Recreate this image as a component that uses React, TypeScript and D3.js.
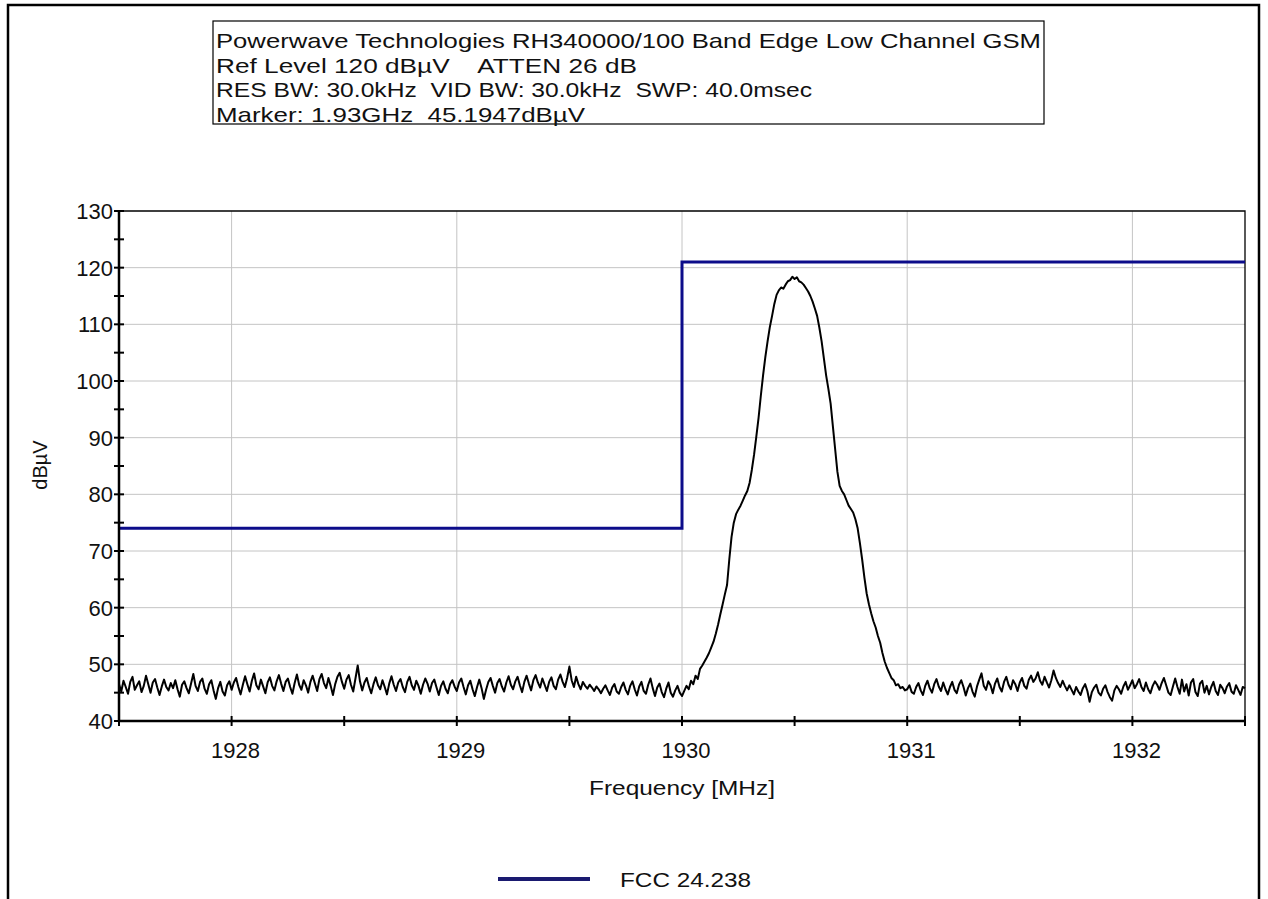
import * as d3 from "d3";

// sweep settings and trace values (dBµV)
const sweepStep = 0.01;

const noiseLowStart = 1927.5;
const noiseLow = [
  46.5, 45.2, 47.1, 46.0, 44.8, 46.9, 47.8, 45.5, 46.3, 47.0, 45.1, 46.2, 48.0, 46.5, 45.0, 46.8, 47.4, 45.9, 44.6, 46.1, 47.3, 46.0, 45.4, 46.7, 45.8,
  47.2, 45.6, 44.3, 46.4, 47.0, 45.8, 44.9, 46.6, 48.3, 46.2, 45.3, 46.9, 47.5, 45.7, 44.8, 46.5, 47.2, 45.4, 43.9, 45.8, 46.9, 45.2, 44.5, 46.3, 47.0,
  45.5, 46.8, 47.6, 46.0, 44.7, 46.4, 47.9, 46.5, 45.2, 47.1, 48.4, 46.3, 45.6, 47.3, 46.1, 44.9, 46.8, 47.7, 46.2, 45.4, 47.0, 48.1, 46.6, 45.3, 46.9,
  47.5, 46.0, 44.8, 46.7, 48.2, 46.4, 45.5, 47.2, 46.3, 45.0, 46.9, 48.0, 46.6, 45.3, 47.4, 48.3, 46.7, 45.8, 47.6, 46.2, 44.6, 46.5, 47.8, 48.5, 46.9,
  45.7, 47.3, 48.1, 46.4, 45.2, 47.5, 49.8, 47.0, 45.4, 46.8, 47.6, 46.1, 44.9, 46.5, 47.7, 46.3, 45.6, 47.2, 46.0, 44.7, 46.6, 47.9, 46.4, 45.3, 46.8,
  47.4, 46.0, 45.1, 46.9, 47.8, 46.3, 45.5, 47.1, 46.2, 44.8, 46.4, 47.5, 46.6, 45.2, 46.7, 47.3, 45.9, 44.6, 46.2, 47.0, 45.7, 44.9, 46.5, 47.2, 46.1,
  45.3, 46.8, 47.5, 46.0, 44.7, 46.3, 47.1, 45.6, 44.4, 46.0, 47.3, 45.8, 43.9, 45.5, 46.9, 47.6, 46.2, 45.0, 46.7, 47.4, 46.1, 45.2, 46.8, 47.9, 46.4,
  45.6, 47.0, 47.8, 46.3, 45.1, 46.9, 48.0, 46.6, 45.4, 47.2, 48.1, 46.8, 45.9, 47.5, 46.4, 45.3, 46.9, 47.7, 46.2, 45.6, 47.3, 48.2, 46.9, 46.0, 47.6,
  49.6, 47.2, 46.0, 47.8, 46.5, 45.6, 46.9, 46.2, 45.7, 46.4, 45.9, 45.3, 46.1, 45.6, 44.9, 45.7, 46.3, 45.4, 44.6, 45.9, 46.5, 45.2, 44.8, 46.0, 46.8,
  45.5, 44.7, 46.2, 47.0, 45.6, 44.5, 46.1, 46.9, 45.3, 44.8, 46.4, 47.5, 45.8, 44.4, 45.9, 46.6, 45.1, 44.2, 45.7, 46.8, 45.0, 44.3, 45.4, 46.2, 45.0,
];

const carrierStart = 1930.0;
const carrier = [
  44.4, 45.3, 46.2, 45.6, 47.1, 46.5, 48.0, 47.4, 49.2, 49.8,
  50.5, 51.2, 52.0, 53.0, 54.0, 55.4, 57.0, 58.8, 60.5, 62.3,
  64.0, 68.5, 72.5, 75.0, 76.5, 77.3, 78.0, 78.9, 79.8, 80.6,
  82.0, 84.3, 87.0, 90.2, 93.5, 97.4, 101.0, 104.2, 107.0, 109.5,
  111.5, 113.6, 115.2, 116.0, 116.5, 116.3, 117.0, 117.6, 117.8, 118.4,
  118.0, 118.3, 117.6, 117.4, 117.0, 116.4, 115.8, 115.0, 114.0, 112.8,
  111.5, 109.4, 107.0, 104.0, 101.0, 98.6, 96.0, 92.0, 88.0, 84.0,
  81.5, 80.6, 80.0, 79.0, 78.0, 77.4, 76.8, 75.6, 74.0, 71.4,
  68.5, 65.3, 62.5, 60.6, 59.0, 57.6, 56.5, 55.0, 53.8, 52.0,
  50.5, 49.4, 48.5, 47.6, 47.2, 46.3, 46.5, 45.8, 46.0, 45.4,
];

const noiseHighStart = 1931.0;
const noiseHigh = [
  45.6, 46.3, 45.1, 44.8, 46.0, 46.7, 45.4, 44.6, 46.2, 47.1, 45.8, 45.0, 46.5, 47.4, 46.1, 45.3, 46.8, 45.6, 44.7, 46.0, 46.9, 45.5, 44.9, 46.4, 47.2,
  46.0, 44.5, 45.8, 46.6, 45.2, 44.3, 46.1, 47.3, 48.4, 46.2, 45.5, 47.0, 46.3, 44.9, 46.6, 47.5, 46.0, 45.2, 46.9, 47.8, 46.4, 45.6, 47.2, 46.5, 45.3,
  46.8, 47.6, 46.2, 45.7, 47.3, 48.0, 46.9, 47.5, 48.6, 47.1, 46.4, 47.8, 46.8, 45.9, 47.2, 48.9, 47.6, 46.7, 46.0, 47.1, 46.2, 45.4, 46.3, 45.5, 44.7,
  46.0, 45.2, 44.6, 45.8, 46.5, 45.3, 43.4, 45.1, 45.9, 46.4, 45.0, 44.5, 45.7, 46.3, 45.1, 44.2, 43.6, 45.4, 46.2, 45.6, 44.8, 46.1, 46.9, 45.5, 46.3,
  47.2, 45.8, 46.5, 47.4, 46.0, 45.3, 46.8, 45.6, 44.9, 46.2, 47.0, 46.4, 45.5, 46.7, 47.6, 46.3, 45.0, 44.6, 46.1, 47.5, 46.0, 44.8, 47.3, 45.2, 46.5,
  44.5, 46.8, 47.4, 45.1, 44.4, 46.6, 47.1, 45.0, 46.2, 44.7, 46.0, 46.9, 45.3, 44.6, 46.4, 45.8, 44.9, 46.1, 46.7, 45.2, 44.8, 46.3, 45.5, 44.6, 46.0,
  45.8,
];

// FCC 24.238 limit line
const limitFreq = [1927.5, 1930.0, 1930.0, 1932.5];
const limitLevel = [74, 74, 121, 121];

const xTicks = [1928, 1929, 1930, 1931, 1932];
const xMinorTicks = [1927.5, 1928.5, 1929.5, 1930.5, 1931.5, 1932.5];
const yTicks = [40, 50, 60, 70, 80, 90, 100, 110, 120, 130];
const yMinorTicks = [45, 55, 65, 75, 85, 95, 105, 115, 125];

const headerLines = [
  "Powerwave Technologies RH340000/100 Band Edge Low Channel GSM",
  "Ref Level 120 dBµV    ATTEN 26 dB",
  "RES BW: 30.0kHz  VID BW: 30.0kHz  SWP: 40.0msec",
  "Marker: 1.93GHz  45.1947dBµV",
];
const headerWidths = [825, 421, 596, 369];

const legendLabel = "FCC 24.238";

const font = "'Liberation Sans', Arial, sans-serif";

export default function App() {
  const W = 1268;
  const H = 899;
  const left = 119, right = 1245, top = 211, bottom = 721;

  const x = d3.scaleLinear().domain([1927.5, 1932.5]).range([left, right]);
  const y = d3.scaleLinear().domain([40, 130]).range([bottom, top]);

  const toPoints = (start: number, vals: number[]) =>
    vals.map((v, i) => [start + i * sweepStep, v] as [number, number]);
  const trace = [
    ...toPoints(noiseLowStart, noiseLow),
    ...toPoints(carrierStart, carrier),
    ...toPoints(noiseHighStart, noiseHigh),
  ];

  const line = d3.line<[number, number]>()
    .x(d => x(d[0]))
    .y(d => y(d[1]));

  const limit = limitFreq.map((f, i) => [f, limitLevel[i]] as [number, number]);

  const navy = "#0c0c8a";
  const tickLen = 5;

  return (
    <svg width={W} height={H} style={{ position: "absolute", left: 0, top: 0, background: "#fff" }} fontFamily={font}>
      <rect x={0} y={0} width={W} height={H} fill="#fff" />
      {/* outer frame */}
      <path d={`M8,${H + 5} V5 H1259 V${H + 5}`} fill="none" stroke="#000" strokeWidth={2.5} />

      {/* header box */}
      <rect x={213} y={21} width={831} height={103} fill="#fff" stroke="#000" strokeWidth={1.2} />
      {headerLines.map((t, i) => (
        <text key={i} x={216} y={48 + i * 24.5} fontSize={21} fill="#111" style={{ whiteSpace: "pre" }}
          textLength={headerWidths[i]} lengthAdjust="spacingAndGlyphs">{t}</text>
      ))}

      {/* grid */}
      <g stroke="#c4c4c4" strokeWidth={1}>
        {xTicks.map(t => <line key={t} x1={x(t)} x2={x(t)} y1={top} y2={bottom} />)}
        {yTicks.filter(t => t > 40 && t < 130).map(t => <line key={t} x1={left} x2={right} y1={y(t)} y2={y(t)} />)}
      </g>

      {/* frame top/right */}
      <path d={`M${left},${top} H${right} V${bottom}`} fill="none" stroke="#000" strokeWidth={1.3} />

      {/* limit line */}
      <path d={line(limit) ?? ""} fill="none" stroke={navy} strokeWidth={3} />

      {/* trace */}
      <path d={line(trace) ?? ""} fill="none" stroke="#000" strokeWidth={2} strokeLinejoin="round" />

      {/* axes */}
      <line x1={left} x2={left} y1={top} y2={bottom + 1} stroke="#000" strokeWidth={2.5} />
      <line x1={left - 1} x2={right} y1={bottom} y2={bottom} stroke="#000" strokeWidth={2.5} />
      <g stroke="#000" strokeWidth={2}>
        {[...yTicks, ...yMinorTicks].map(t => (
          <line key={"y" + t} x1={left - tickLen} x2={left + tickLen} y1={y(t)} y2={y(t)} />
        ))}
        {[...xTicks, ...xMinorTicks].map(t => (
          <line key={"x" + t} x1={x(t)} x2={x(t)} y1={bottom - tickLen} y2={bottom + tickLen} />
        ))}
      </g>

      {/* tick labels */}
      <g fontSize={22} fill="#111">
        {yTicks.map(t => (
          <text key={t} x={left - 6} y={y(t) + 8} textAnchor="end">{t}</text>
        ))}
        {xTicks.map(t => (
          <text key={t} x={x(t) + 4} y={758} textAnchor="middle">{t}</text>
        ))}
      </g>

      {/* axis titles */}
      <text x={682} y={795} textAnchor="middle" fontSize={21} fill="#111"
        textLength={186} lengthAdjust="spacingAndGlyphs">Frequency [MHz]</text>
      <text transform="translate(47,465) rotate(-90)" textAnchor="middle" fontSize={20} fill="#111">dBµV</text>

      {/* legend */}
      <line x1={498} x2={590} y1={879} y2={879} stroke="#1a1a70" strokeWidth={4} />
      <text x={620} y={887} fontSize={21} fill="#111"
        textLength={131} lengthAdjust="spacingAndGlyphs">{legendLabel}</text>
    </svg>
  );
}
